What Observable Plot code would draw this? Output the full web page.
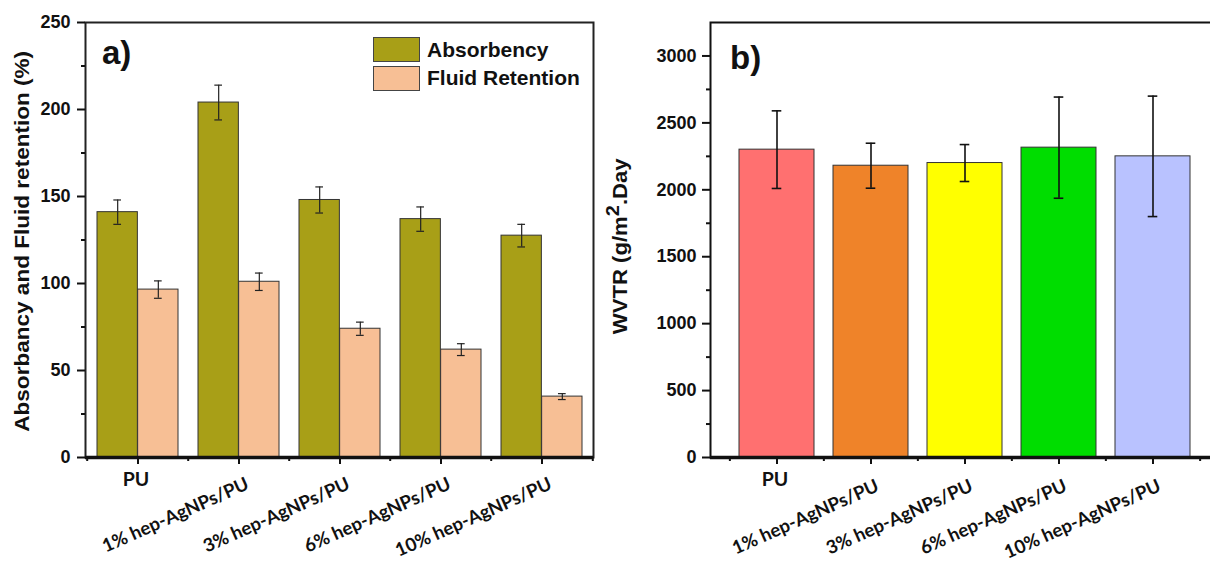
<!DOCTYPE html>
<html>
<head>
<meta charset="utf-8">
<script src="https://cdn.jsdelivr.net/npm/d3@7"></script>
<script src="https://cdn.jsdelivr.net/npm/@observablehq/plot@0.6"></script>
<style>
  html, body { margin: 0; padding: 0; background: #fff; }
  #wrap { position: relative; width: 1210px; height: 562px; overflow: hidden; font-family: "Liberation Sans", Arial, sans-serif; }
  .panel { position: absolute; top: 0; width: 620px; height: 562px; }
  .panel svg { max-width: none !important; }
  .ylab { position: absolute; font-weight: bold; white-space: nowrap; color: #111; }
  .tag { position: absolute; font-weight: bold; font-size: 33px; line-height: 1; color: #111; }
  .leg { position: absolute; display: flex; align-items: center; font-weight: bold; font-size: 21px; color: #111; }
  .sw { width: 45px; height: 23px; border: 1px solid #444; margin-right: 7px; }
</style>
</head>
<body>
<div id="wrap">
  <div id="left" class="panel" style="left:0px"></div>
  <div id="right" class="panel" style="left:610px"></div>
</div>
<script>
// ---------- data ----------
const categories = ["PU", "1% hep-AgNPs/PU", "3% hep-AgNPs/PU", "6% hep-AgNPs/PU", "10% hep-AgNPs/PU"];
const absorbency = [141, 204, 148, 137, 127.5];
const absorbencyErr = [7, 10, 7.5, 7, 6.5];
const fluidRetention = [96.5, 101, 74, 62, 35];
const fluidRetentionErr = [5, 5, 3.8, 3.4, 1.7];
const wvtr = [2300, 2180, 2200, 2315, 2250];
const wvtrErr = [290, 168, 138, 378, 450];
const leftTicks = [0, 50, 100, 150, 200, 250];
const leftMinorTicks = [25, 75, 125, 175, 225];
const rightTicks = [0, 500, 1000, 1500, 2000, 2500, 3000];
const rightMinorTicks = [250, 750, 1250, 1750, 2250, 2750];
const seriesNames = ["Absorbency", "Fluid Retention"];
const seriesColors = ["#A89F17", "#F7BF95"];
const wvtrColors = ["#FF7070", "#EF8329", "#FFFF00", "#00DD00", "#B9C2FF"];

const rowsA = categories.map((c, i) => ({cat: c, abs: absorbency[i], absErr: absorbencyErr[i], fl: fluidRetention[i], flErr: fluidRetentionErr[i]}));
const rowsB = categories.map((c, i) => ({cat: c, v: wvtr[i], e: wvtrErr[i], color: wvtrColors[i]}));

function geom(width, ml, mr, n, pi, po) {
  const step = (width - ml - mr) / (n - pi + 2 * po);
  return {step, bw: step * (1 - pi)};
}

const tickFont = {fontSize: 18, fontWeight: "bold", fontFamily: "Liberation Sans, Arial, sans-serif"};
const xLabFont = {fontSize: 18.5, fontWeight: "bold", fontFamily: "Lato, 'Open Sans', sans-serif", fill: "#111"};
const straight = categories.filter(c => c === "PU");
const slanted = categories.filter(c => c !== "PU");

function xLabels(dxS, dyS) {
  return [
    Plot.text(straight, {x: d => d, frameAnchor: "bottom", dy: 15, dx: -2, textAnchor: "middle", lineAnchor: "top", ...xLabFont, fontSize: 19.5}),
    Plot.text(slanted, {x: d => d, frameAnchor: "bottom", dy: dyS, dx: dxS, rotate: -24, textAnchor: "end", lineAnchor: "bottom", ...xLabFont})
  ];
}

// ---------- left panel ----------
{
  const W = 610, H = 562, ml = 85, mr = 17, mt = 22, mb = 105;
  const pi = 0.2, po = 0.1;
  const {step, bw} = geom(W, ml, mr, categories.length, pi, po);
  const cap = 4;
  const p = Plot.plot({
    width: W, height: H, marginLeft: ml, marginRight: mr, marginTop: mt, marginBottom: mb,
    style: {fontFamily: "Liberation Sans, Arial, sans-serif", color: "#111", background: "transparent", overflow: "visible", maxWidth: "none"},
    x: {type: "band", domain: categories, paddingInner: pi, paddingOuter: po},
    y: {domain: [0, 250]},
    marks: [
      Plot.barY(rowsA, {x: "cat", y: "abs", fill: seriesColors[0], stroke: "#333", strokeWidth: 1, insetRight: bw / 2, insetLeft: 0}),
      Plot.barY(rowsA, {x: "cat", y: "fl", fill: seriesColors[1], stroke: "#333", strokeWidth: 1, insetLeft: bw / 2, insetRight: 0}),
      Plot.ruleX(rowsA, {x: "cat", y1: d => d.abs - d.absErr, y2: d => d.abs + d.absErr, dx: -bw / 4, stroke: "#222", strokeWidth: 1.2}),
      Plot.ruleX(rowsA, {x: "cat", y1: d => d.fl - d.flErr, y2: d => d.fl + d.flErr, dx: bw / 4, stroke: "#222", strokeWidth: 1.2}),
      Plot.tickY(rowsA, {x: "cat", y: d => d.abs + d.absErr, insetLeft: bw / 4 - cap, insetRight: 3 * bw / 4 - cap, stroke: "#222", strokeWidth: 1.2}),
      Plot.tickY(rowsA, {x: "cat", y: d => d.abs - d.absErr, insetLeft: bw / 4 - cap, insetRight: 3 * bw / 4 - cap, stroke: "#222", strokeWidth: 1.2}),
      Plot.tickY(rowsA, {x: "cat", y: d => d.fl + d.flErr, insetLeft: 3 * bw / 4 - cap, insetRight: bw / 4 - cap, stroke: "#222", strokeWidth: 1.2}),
      Plot.tickY(rowsA, {x: "cat", y: d => d.fl - d.flErr, insetLeft: 3 * bw / 4 - cap, insetRight: bw / 4 - cap, stroke: "#222", strokeWidth: 1.2}),
      Plot.frame({stroke: "#222", strokeWidth: 2}),
      Plot.ruleY([0], {stroke: "#111", strokeWidth: 3.5}),
      Plot.axisY({ticks: leftTicks, tickSize: 8, tickPadding: 7, label: null, strokeWidth: 2, ...tickFont}),
      Plot.axisY({ticks: leftMinorTicks, tickSize: 4, tickFormat: () => "", label: null, strokeWidth: 2}),
      Plot.axisX({ticks: categories, tickSize: 7, tickFormat: () => "", label: null, strokeWidth: 2}),
      Plot.axisX({ticks: categories, tickSize: 4, tickFormat: () => "", label: null, strokeWidth: 2, dx: -step / 2}),
      Plot.axisX({ticks: categories.slice(-1), tickSize: 4, tickFormat: () => "", label: null, strokeWidth: 2, dx: step / 2}),
      ...xLabels(11, 31)
    ]
  });
  document.getElementById("left").appendChild(p);
}

// ---------- right panel ----------
{
  const W = 620, H = 562, ml = 100, mr = 11, mt = 22, mb = 105;
  const pi = 0.2, po = 0.3;
  const {step, bw} = geom(W, ml, mr, categories.length, pi, po);
  const cap = 4;
  const p = Plot.plot({
    width: W, height: H, marginLeft: ml, marginRight: mr, marginTop: mt, marginBottom: mb,
    style: {fontFamily: "Liberation Sans, Arial, sans-serif", color: "#111", background: "transparent", overflow: "visible", maxWidth: "none"},
    x: {type: "band", domain: categories, paddingInner: pi, paddingOuter: po},
    y: {domain: [0, 3250]},
    marks: [
      Plot.barY(rowsB, {x: "cat", y: "v", fill: "color", stroke: "#333", strokeWidth: 1}),
      Plot.ruleX(rowsB, {x: "cat", y1: d => d.v - d.e, y2: d => d.v + d.e, stroke: "#111", strokeWidth: 1.6}),
      Plot.tickY(rowsB, {x: "cat", y: d => d.v + d.e, inset: bw / 2 - cap - 1, stroke: "#111", strokeWidth: 1.6}),
      Plot.tickY(rowsB, {x: "cat", y: d => d.v - d.e, inset: bw / 2 - cap - 1, stroke: "#111", strokeWidth: 1.6}),
      Plot.frame({stroke: "#111", strokeWidth: 2}),
      Plot.ruleY([0], {stroke: "#111", strokeWidth: 3.5}),
      Plot.axisY({ticks: rightTicks, tickSize: 8, tickPadding: 6, tickFormat: d3.format("d"), label: null, strokeWidth: 2, ...tickFont}),
      Plot.axisY({ticks: rightMinorTicks, tickSize: 4, tickFormat: () => "", label: null, strokeWidth: 2}),
      Plot.axisX({ticks: categories, tickSize: 7, tickFormat: () => "", label: null, strokeWidth: 2}),
      Plot.axisX({ticks: categories, tickSize: 4, tickFormat: () => "", label: null, strokeWidth: 2, dx: -step / 2}),
      Plot.axisX({ticks: categories.slice(-1), tickSize: 4, tickFormat: () => "", label: null, strokeWidth: 2, dx: step / 2}),
      ...xLabels(9, 33)
    ]
  });
  document.getElementById("right").appendChild(p);
}

// ---------- overlay text: axis titles, panel tags, legend ----------
const wrap = document.getElementById("wrap");
function addLabel(html, cx, cy, size, stretch) {
  const d = document.createElement("div");
  d.className = "ylab";
  d.style.fontSize = size + "px";
  d.style.lineHeight = "1.2";
  d.innerHTML = html;
  wrap.appendChild(d);
  const w = d.offsetWidth, h = d.offsetHeight;
  d.style.left = (cx - w / 2) + "px";
  d.style.top = (cy - h / 2) + "px";
  d.style.transform = `rotate(-90deg) scaleX(${stretch})`;
}
addLabel("Absorbancy and Fluid retention (%)", 22, 241, 20.5, 1.1);
addLabel("WVTR (g/m<sup style='font-size:0.9em;line-height:0;vertical-align:0.45em'>2</sup>.Day", 620, 246, 20.5, 1.08);

function addTag(t, x, y) {
  const d = document.createElement("div");
  d.className = "tag"; d.textContent = t;
  d.style.left = x + "px"; d.style.top = y + "px";
  wrap.appendChild(d);
}
addTag("a)", 102, 36);
addTag("b)", 730, 41);

seriesNames.forEach((name, i) => {
  const d = document.createElement("div");
  d.className = "leg";
  d.style.left = "373px"; d.style.top = (37 + i * 28.5) + "px";
  d.innerHTML = `<div class="sw" style="background:${seriesColors[i]}"></div><span>${name}</span>`;
  wrap.appendChild(d);
});
</script>
</body>
</html>
